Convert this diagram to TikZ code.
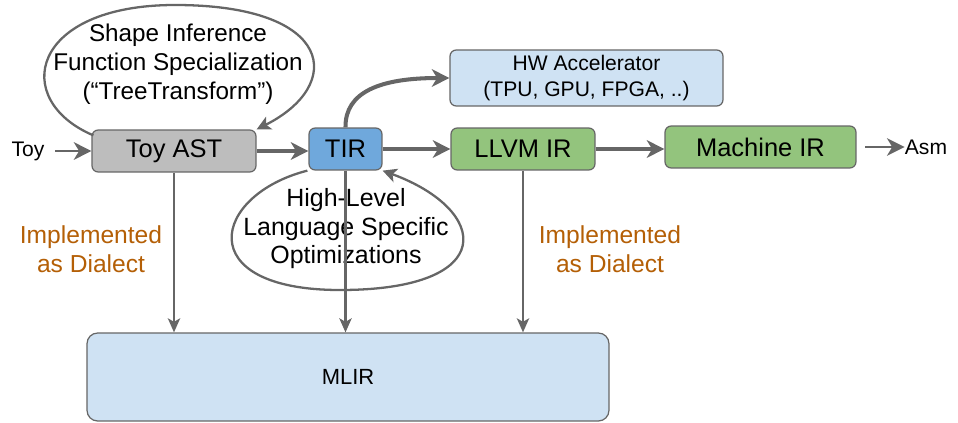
\documentclass[tikz,border=0pt]{standalone}
\usepackage{fontspec}
\setmainfont{Liberation Sans}
\usetikzlibrary{arrows.meta}
\definecolor{edgegray}{HTML}{666666}
\definecolor{astgray}{HTML}{BDBDBD}
\definecolor{tirblue}{HTML}{6FA8DC}
\definecolor{irgreen}{HTML}{93C47D}
\definecolor{paleblue}{HTML}{CFE2F3}
\definecolor{dialect}{HTML}{B45F06}
\begin{document}
\begin{tikzpicture}[
      x=0.02cm, y=-0.02cm,
      stage/.style={
        draw=edgegray, line width=0.7pt, rounded corners=3.5pt,
        minimum height=0.84cm, inner sep=0pt,
        font=\fontsize{14.5pt}{17pt}\selectfont
      },
      note/.style={align=center, inner sep=0pt, font=\fontsize{14pt}{16.4pt}\selectfont},
      flow/.style={->, draw=edgegray, line width=2.3pt, >={Stealth[length=10pt,width=10pt,inset=3pt]}},
      lower/.style={->, draw=edgegray, line width=1.3pt, >={Stealth[length=8pt,width=7pt,inset=2pt]}},
      loop/.style={->, draw=edgegray, line width=1.3pt, >={Stealth[length=8pt,width=8pt,inset=2pt]}}
      ]
      \useasboundingbox (0,0) rectangle (958,423);

      \node[stage, fill=astgray, minimum width=3.28cm]  (ast)  at (174,151) {Toy AST};
      \node[stage, fill=tirblue, minimum width=1.46cm]  (tir)  at (345.5,149) {TIR};
      \node[stage, fill=irgreen, minimum width=2.88cm]  (llvm) at (523,149) {LLVM IR};
      \node[stage, fill=irgreen, minimum width=3.82cm]  (mir)  at (760.5,147) {Machine IR};
      \node[stage, fill=paleblue, minimum width=5.46cm, minimum height=1.12cm, align=center,
            font=\fontsize{12pt}{14.6pt}\selectfont]   (hw)   at (586.5,78) {HW Accelerator\\(TPU, GPU, FPGA, ..)};
      \node[stage, fill=paleblue, minimum width=10.44cm, minimum height=1.76cm,
            rounded corners=6pt, font=\fontsize{12.5pt}{15pt}\selectfont] (mlir) at (348,377) {MLIR};

      \node[note, font=\fontsize{12pt}{14pt}\selectfont] (toy) at (28,151) {Toy};
      \node[note, font=\fontsize{12pt}{14pt}\selectfont] (asm) at (926,147) {Asm};

      \node[note, font=\fontsize{13.8pt}{16.4pt}\selectfont] (shape) at (178,64) {Shape Inference\\Function Specialization\\(“TreeTransform”)};
      \node[note, font=\fontsize{14.2pt}{16.2pt}\selectfont] (hlopt) at (346,229) {High-Level\\Language Specific\\Optimizations};
      \node[note, text=dialect] (dial1) at (91,249) {Implemented\\as Dialect};
      \node[note, text=dialect] (dial2) at (610,249) {Implemented\\as Dialect};

      % Main pipeline
      \draw[flow, line width=1.6pt, shorten <=6pt] (toy.east) -- (ast.west);
      \draw[flow] (ast.east) -- (ast.east -| tir.west);
      \draw[flow] (tir.east) -- (llvm.west);
      \draw[flow] (llvm.east) -- (llvm.east -| mir.west);
      \draw[flow, line width=1.6pt, shorten <=5pt] (mir.east |- asm.west) -- (asm.west);
      \draw[flow] (tir.north) .. controls (345,92) and (380,78) .. (hw.west);

      % Loops
      \draw[loop] (ast.north west) ++(2,6) .. controls (10,100) and (30,5) .. (175,5)
                  .. controls (335,5) and (345,85) .. (ast.north east);
      \draw[loop] (tir.south west) ++(-1,0) .. controls (212,195) and (190,290) .. (340,290)
                  .. controls (500,290) and (490,210) .. (tir.south east);

      % Down to MLIR
      \draw[lower] (ast.south) -- (ast.south |- mlir.north);
      \draw[lower] (tir.south) -- (tir.south |- mlir.north);
      \draw[lower] (llvm.south) -- (llvm.south |- mlir.north);
\end{tikzpicture}
\end{document}
